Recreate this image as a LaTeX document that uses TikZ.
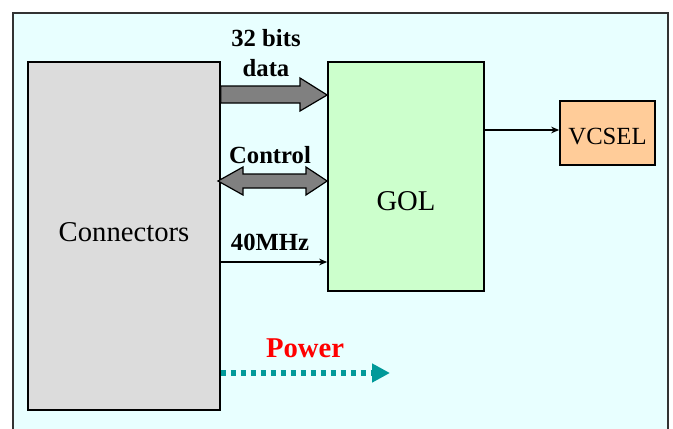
\documentclass[tikz,border=0pt]{standalone}
\usepackage{fontspec}
\setmainfont{Liberation Serif}
\usetikzlibrary{arrows.meta,calc}
\definecolor{bgcyan}{HTML}{E8FFFF}
\definecolor{conngray}{HTML}{DCDCDC}
\definecolor{golgreen}{HTML}{CCFFCC}
\definecolor{vcselorange}{HTML}{FFCC99}
\definecolor{fatgray}{HTML}{808080}
\definecolor{teal}{HTML}{009999}
\tikzset{
  blk/.style={draw=black, line width=1.3pt, rectangle, inner sep=0pt},
  lbl/.style={font=\fontsize{18.5}{22.5}\selectfont\bfseries, align=center, inner sep=0pt},
  thinarrow/.style={draw=black, line width=0.9pt, -{Stealth[length=6pt,width=5pt]}},
  fatarrow/.style={draw=black, line width=0.9pt, fill=fatgray},
  powerline/.style={draw=teal, line width=3.8pt, dash pattern=on 3.8pt off 3.7pt},
}
\begin{document}
\begin{tikzpicture}[x=0.75pt,y=-0.75pt]
\clip (0,0) rectangle (673,428);
\fill[white] (0,0) rectangle (673,428);
\draw[fill=bgcyan, draw=black!80, line width=1.2pt] (13,13) rectangle (668,445);

\node[blk, fill=conngray, minimum width=144pt, minimum height=261pt,
      label={[font=\fontsize{21.5}{24}\selectfont, yshift=3pt]center:Connectors}] (conn) at (124,236) {};
\node[blk, fill=golgreen, minimum width=117pt, minimum height=171.75pt,
      label={[font=\fontsize{21.5}{24}\selectfont, yshift=-18.5pt]center:GOL}] (gol) at (406,176.5) {};
\node[blk, fill=vcselorange, minimum width=71.25pt, minimum height=48pt,
      label={[font=\fontsize{18.5}{22}\selectfont, yshift=-3pt]center:VCSEL}] (vcsel) at (607.5,133) {};

% 32 bits data fat arrow
\draw[fatarrow] (conn.east |- 0,86) -- (300,86) -- (300,78) -- (gol.west |- 0,95)
  -- (300,111) -- (300,103) -- (conn.east |- 0,103) -- cycle;
\node[lbl] (lbldata) at (266,53) {32 bits\\data};

% Control double fat arrow
\draw[fatarrow] (218,181) -- (243,167) -- (243,174) -- (306,174) -- (306,167)
  -- (gol.west |- 0,181) -- (306,195) -- (306,188) -- (243,188) -- (243,195) -- cycle;
\node[lbl] (lblctrl) at (270,155) {Control};

% 40 MHz
\draw[thinarrow] (conn.east |- 0,262) -- (gol.west |- 0,262);
\node[lbl] (lblclk) at (270,242) {40MHz};

% GOL -> VCSEL
\draw[thinarrow] (gol.east |- 0,130) -- (vcsel.west |- 0,130);

% Power
\coordinate (pend) at (390,373);
\draw[powerline, -{Triangle[length=13.5pt,width=13.5pt]}] (conn.east |- 0,373) -- (pend);
\node[lbl, text=red, font=\fontsize{21.5}{24}\selectfont\bfseries] (lblpow) at (305,348) {Power};
\end{tikzpicture}
\end{document}
